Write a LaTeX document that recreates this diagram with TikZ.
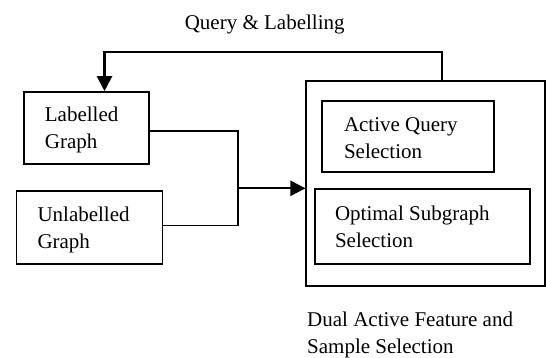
\documentclass[tikz,border=0pt]{standalone}
\usepackage{fontspec}
\setmainfont{Liberation Serif}
\usetikzlibrary{arrows.meta}
\begin{document}
\begin{tikzpicture}[x=1pt,y=-1pt,
  txt/.style={font=\fontsize{21}{27}\selectfont, align=flush left, inner sep=0pt},
  box/.style={draw, line width=1.6pt, rectangle, txt, inner xsep=21pt, inner ysep=0pt,
              text height=14.5pt, text depth=27pt},
  conn/.style={line width=1.6pt},
  arr/.style={line width=2.2pt, -{Triangle[length=15pt,width=15pt]}}]
\useasboundingbox (0,0) rectangle (546,358);

% boxes
\node[box, minimum width=125.3pt, minimum height=72pt, text width=83pt]
  (labelled) at (86.4,128) {Labelled\\Graph};
\node[box, minimum width=146.3pt, minimum height=73pt, text width=104pt]
  (unlabelled) at (89.5,227.5) {Unlabelled\\Graph};
\node[draw, line width=1.6pt, rectangle, minimum width=238.5pt, minimum height=205pt, inner sep=0pt]
  (outer) at (425.5,183.5) {};
\node[box, minimum width=172pt, minimum height=71pt, inner xsep=22pt, text width=128pt,
      text height=16pt, text depth=25.5pt]
  (active) at (408,136.5) {Active Query\\Selection};
\node[box, minimum width=215pt, minimum height=75pt, inner xsep=20pt, text width=175pt]
  (optimal) at (422.5,226.5) {Optimal Subgraph\\Selection};

% labels
\node[txt, anchor=base] (query) at (264.7,29.5) {Query \& Labelling};
\node[txt, anchor=base west] (caption) at (307,353) {Dual Active Feature and\\Sample Selection};

% connectors
\coordinate (fbR) at (442,52);
\coordinate (fbL) at (104.5,52);
\draw[arr] (fbR |- outer.north) -- (fbR) -- (fbL) -- (fbL |- labelled.north);

\coordinate (jtop) at (238,131);
\coordinate (jbot) at (238,225.7);
\coordinate (jn) at (238,188.3);
\draw[conn] (labelled.east |- jtop) -- (jtop) -- (jbot) -- (unlabelled.east |- jbot);
\draw[arr] (jn) -- (jn -| outer.west);
\end{tikzpicture}
\end{document}
